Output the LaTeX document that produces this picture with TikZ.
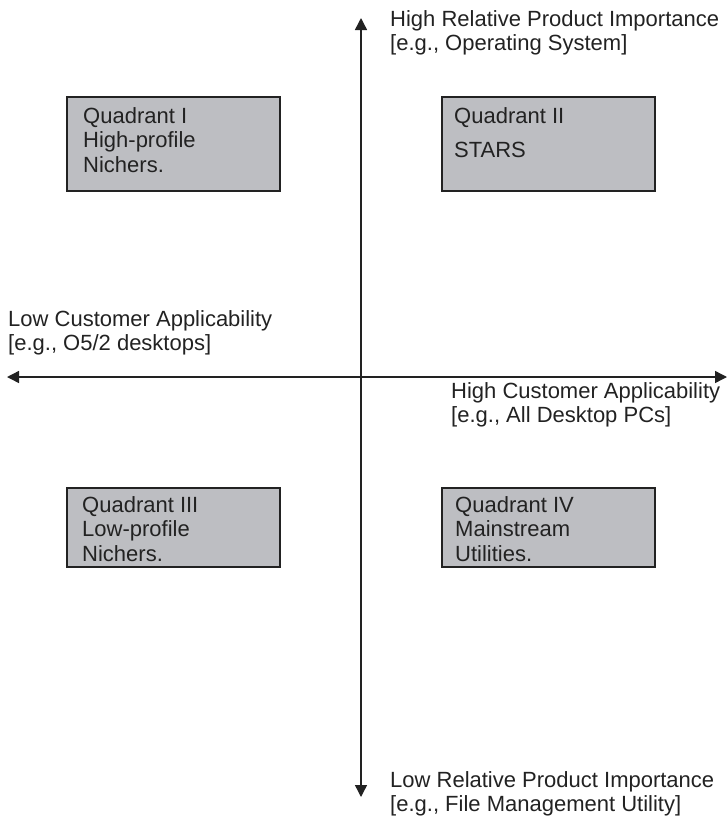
\documentclass[tikz,border=0pt]{standalone}
\usepackage{fontspec}
\setmainfont{Liberation Sans}
\usetikzlibrary{arrows.meta}
\definecolor{boxgrey}{HTML}{BDBEC2}
\definecolor{ink}{HTML}{222222}
\begin{document}
\begin{tikzpicture}[x=1pt,y=-1pt,
  lbl/.style={anchor=north west, inner sep=0pt, align=left,
    font=\fontsize{22}{24.5}\selectfont, text=ink},
  quad/.style={draw=ink, line width=1.6pt, fill=boxgrey, anchor=north west,
    inner sep=0pt, minimum width=213pt},
  axisline/.style={draw=ink, line width=1.4pt,
    {Triangle[length=12pt,width=12pt]}-{Triangle[length=12pt,width=12pt]}}]
\useasboundingbox (0,0) rectangle (728,820);
% axes
\coordinate (top) at (361,18);
\coordinate (bot) at (361,797);
\coordinate (lft) at (7,377);
\coordinate (rgt) at (727,377);
\draw[axisline] (top) -- (bot);
\draw[axisline] (lft) -- (rgt);
% quadrant boxes
\node[quad, minimum height=94pt] (q1) at (66,96) {};
\node[quad, minimum height=94pt] (q2) at (441,96) {};
\node[quad, minimum height=79pt] (q3) at (66,487) {};
\node[quad, minimum height=79pt] (q4) at (441,487) {};
% box texts
\node[lbl] (t1) at (83,107) {Quadrant I\\High-profile\\Nichers.};
\node[lbl] (t2) at (454,107) {Quadrant II\\[9.5pt]STARS};
\node[lbl] (t3) at (82,496) {Quadrant III\\Low-profile\\Nichers.};
\node[lbl] (t4) at (455,496) {Quadrant IV\\Mainstream\\Utilities.};
% axis labels
\node[lbl] (lt) at (390,10) {High Relative Product Importance\\\relax [e.g., Operating System]};
\node[lbl] (ll) at (8,310) {Low Customer Applicability\\\relax [e.g., O5/2 desktops]};
\node[lbl] (lr) at (451,382) {High Customer Applicability\\\relax [e.g., All Desktop PCs]};
\node[lbl] (lb) at (390,771) {Low Relative Product Importance\\\relax [e.g., File Management Utility]};
\end{tikzpicture}
\end{document}
